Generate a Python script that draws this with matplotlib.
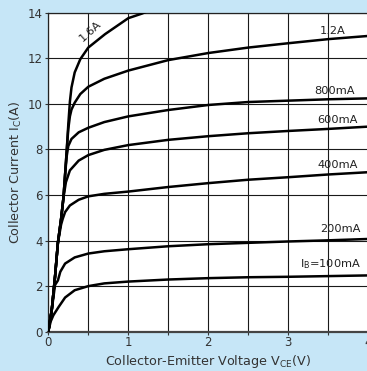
import matplotlib
matplotlib.use("Agg")
import matplotlib.pyplot as plt

plt.rcParams['font.family'] = ['DejaVu Sans']
plt.rcParams['mathtext.default'] = 'regular'

# VCE (V) / IC (A) points, one curve per base current
v_100 = [0, 0.03, 0.063, 0.13, 0.21, 0.33, 0.5, 0.7, 1.0, 1.5, 2.0, 2.5, 3.0, 3.5, 4.0]
i_100 = [0, 0.45, 0.72, 1.09, 1.5, 1.82, 2.0, 2.12, 2.2, 2.29, 2.35, 2.39, 2.41, 2.44, 2.47]

v_200 = [0, 0.043, 0.084, 0.12, 0.15, 0.21, 0.33, 0.5, 0.7, 1.0, 1.5, 2.0, 2.5, 3.0, 3.5, 4.0]
i_200 = [0, 0.95, 2.05, 2.25, 2.63, 2.99, 3.26, 3.43, 3.53, 3.62, 3.75, 3.84, 3.9, 3.96, 4.01, 4.07]

v_400 = [0, 0.043, 0.084, 0.12, 0.16, 0.18, 0.21, 0.27, 0.38, 0.5, 0.7, 1.0, 1.5, 2.0, 2.5, 3.0, 3.5, 4.0]
i_400 = [0, 0.95, 2.41, 3.9, 4.7, 4.95, 5.25, 5.54, 5.79, 5.94, 6.05, 6.15, 6.35, 6.52, 6.67, 6.78, 6.9, 7.0]

v_600 = [0, 0.043, 0.084, 0.12, 0.16, 0.19, 0.22, 0.27, 0.38, 0.5, 0.7, 1.0, 1.5, 2.0, 2.5, 3.0, 3.5, 4.0]
i_600 = [0, 0.95, 2.41, 3.9, 4.95, 5.9, 6.56, 7.08, 7.51, 7.75, 7.98, 8.19, 8.42, 8.58, 8.71, 8.81, 8.9, 9.0]

v_800 = [0, 0.043, 0.084, 0.12, 0.16, 0.19, 0.21, 0.23, 0.25, 0.29, 0.38, 0.5, 0.7, 1.0, 1.5, 2.0, 2.5, 3.0, 3.5, 4.0]
i_800 = [0, 0.95, 2.41, 3.9, 4.95, 5.9, 6.9, 7.7, 8.15, 8.46, 8.75, 8.95, 9.2, 9.45, 9.73, 9.95, 10.08, 10.14, 10.2, 10.24]

v_1200 = [0, 0.043, 0.084, 0.12, 0.16, 0.19, 0.21, 0.23, 0.25, 0.27, 0.29, 0.33, 0.4, 0.5, 0.7, 1.0, 1.5, 2.0, 2.5, 3.0, 3.5, 4.0]
i_1200 = [0, 0.95, 2.41, 3.9, 4.95, 5.9, 6.9, 7.95, 8.9, 9.45, 9.75, 10.05, 10.43, 10.75, 11.1, 11.46, 11.92, 12.23, 12.47, 12.66, 12.84, 12.98]

v_1600 = [0, 0.043, 0.084, 0.12, 0.16, 0.19, 0.21, 0.23, 0.25, 0.27, 0.29, 0.33, 0.4, 0.5, 0.71, 1.0, 1.17, 1.4]
i_1600 = [0, 0.95, 2.41, 3.9, 4.95, 5.9, 6.9, 7.95, 9.1, 10.1, 10.72, 11.38, 11.96, 12.47, 13.06, 13.76, 13.96, 14.3]

curves = [(v_100, i_100), (v_200, i_200), (v_400, i_400), (v_600, i_600),
          (v_800, i_800), (v_1200, i_1200), (v_1600, i_1600)]

# curve labels and where they sit
labels = ['I$_{B}$=100mA', '200mA', '400mA', '600mA', '800mA', '1.2A', '1.6A']
label_v = [3.53, 3.65, 3.62, 3.62, 3.58, 3.56, 0.53]
label_i = [2.96, 4.5, 7.33, 9.3, 10.58, 13.2, 13.2]
label_rot = [0, 0, 0, 0, 0, 0, 42]

bg = '#c6e6f7'
fig = plt.figure(figsize=(3.67, 3.71), dpi=100, facecolor=bg)
ax = fig.add_axes([48.3 / 367, 1 - 331.7 / 371, 320 / 367, 319 / 371])
ax.set_facecolor('white')

for v, i in curves:
    ax.plot(v, i, color='black', lw=1.8, solid_capstyle='round', zorder=3)

for txt, x, y, r in zip(labels, label_v, label_i, label_rot):
    ax.text(x, y, txt, fontsize=8.2, ha='center', va='center', rotation=r,
            color='#222222', zorder=4)

ax.set_xlim(0, 4)
ax.set_ylim(0, 14)
ax.set_xticks([0, 1, 2, 3, 4])
ax.set_yticks(range(0, 15, 2))
ax.set_xticks([0.5, 1.5, 2.5, 3.5], minor=True)
ax.grid(True, which='both', color='#1a1a1a', lw=0.8)
ax.set_axisbelow(True)
ax.tick_params(which='both', length=2.5, width=0.8, color='#333333',
               labelsize=8.5, labelcolor='#333333', pad=1.5)
ax.tick_params(axis='x', pad=0.8)
for s in ['left', 'top', 'right']:
    ax.spines[s].set_color('#222222')
    ax.spines[s].set_linewidth(0.9)
ax.spines['bottom'].set_color('#444444')
ax.spines['bottom'].set_linewidth(1.6)

ax.set_xlabel('Collector-Emitter Voltage V$_{CE}$(V)', fontsize=9.2,
              color='#333333', labelpad=3)
ax.set_ylabel('Collector Current I$_{C}$(A)', fontsize=9.2,
              color='#333333', labelpad=3)

fig.savefig('out.png', dpi=100, facecolor=bg)
